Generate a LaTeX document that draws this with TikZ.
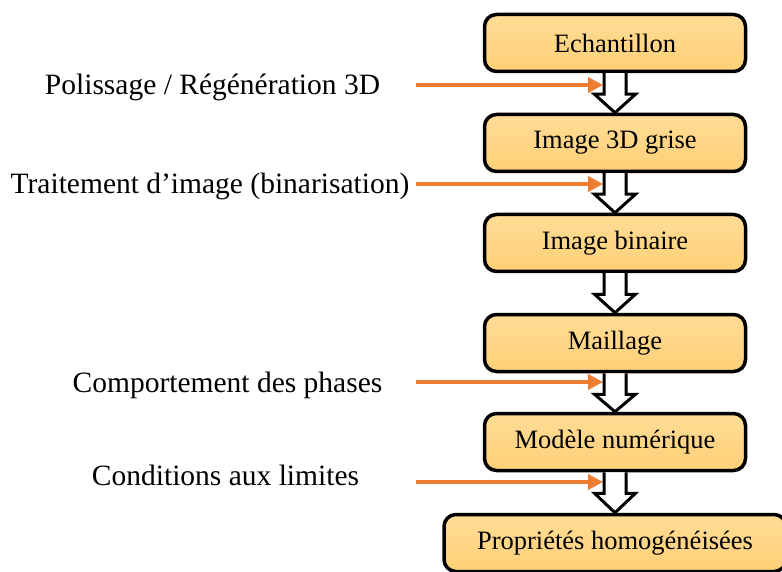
\documentclass[tikz,border=0pt]{standalone}
\usepackage{fontspec}
\setmainfont{Liberation Serif}
\usetikzlibrary{arrows.meta,calc}

\definecolor{orangeArrow}{RGB}{237,125,49}
\definecolor{boxTop}{RGB}{255,220,150}
\definecolor{boxBottom}{RGB}{255,208,118}

\begin{document}
\begin{tikzpicture}[x=1pt, y=-1pt, font=\fontsize{26.5}{31}\selectfont]
    \tikzstyle{node_box} = [draw=black, line width=3.5, rounded corners=12, top color=boxTop, bottom color=boxBottom, minimum width=261, minimum height=57, inner sep=0]
    \tikzstyle{node_label} = [draw=none, anchor=base, inner sep=0, font=\fontsize{29.5}{35}\selectfont]
    \tikzstyle{arrow_hollow} = [draw=black, line width=3, fill=white]
    \tikzstyle{arrow_orange} = [-{Triangle[length=15, width=15]}, orangeArrow, line width=4]

    \useasboundingbox (0,0) rectangle (782,572);

    \node[node_box] (nEch) at (615,43) {Echantillon};
    \node[node_box] (nGris) at (615,143) {Image 3D grise};
    \node[node_box] (nBin) at (615,243) {Image binaire};
    \node[node_box] (nMail) at (615,343) {Maillage};
    \node[node_box] (nMod) at (615,442) {Modèle numérique};
    \node[node_box, minimum width=342] (nProp) at (615,543) {Propriétés homogénéisées};

    % ---------------------------------------

    \foreach \a/\b in {nEch/nGris, nGris/nBin, nBin/nMail, nMail/nMod, nMod/nProp}
        \draw[arrow_hollow] ($(\a.south)+(-11,0)$) -- ($(\a.south)+(-11,21)$) -- ($(\a.south)+(-20.5,21)$)
            -- (\b.north) -- ($(\a.south)+(20.5,21)$) -- ($(\a.south)+(11,21)$) -- ($(\a.south)+(11,0)$);

    % ---------------------------------------

    \node[node_label] (tPol) at (212.5,94.5) {Polissage / Régénération 3D};
    \node[node_label] (tTrait) at (210,194) {Traitement d’image (binarisation)};
    \node[node_label] (tComp) at (227.5,392) {Comportement des phases};
    \node[node_label] (tCond) at (225.5,485) {Conditions aux limites};

    \coordinate (s1) at (416,85);
    \coordinate (e1) at (603,85);
    \coordinate (s2) at (416,184);
    \coordinate (e2) at (603,184);
    \coordinate (s3) at (416,382);
    \coordinate (e3) at (603,382);
    \coordinate (s4) at (416,482);
    \coordinate (e4) at (603,482);

    \draw[arrow_orange] (s1) -- (e1);
    \draw[arrow_orange] (s2) -- (e2);
    \draw[arrow_orange] (s3) -- (e3);
    \draw[arrow_orange] (s4) -- (e4);

\end{tikzpicture}
\end{document}
